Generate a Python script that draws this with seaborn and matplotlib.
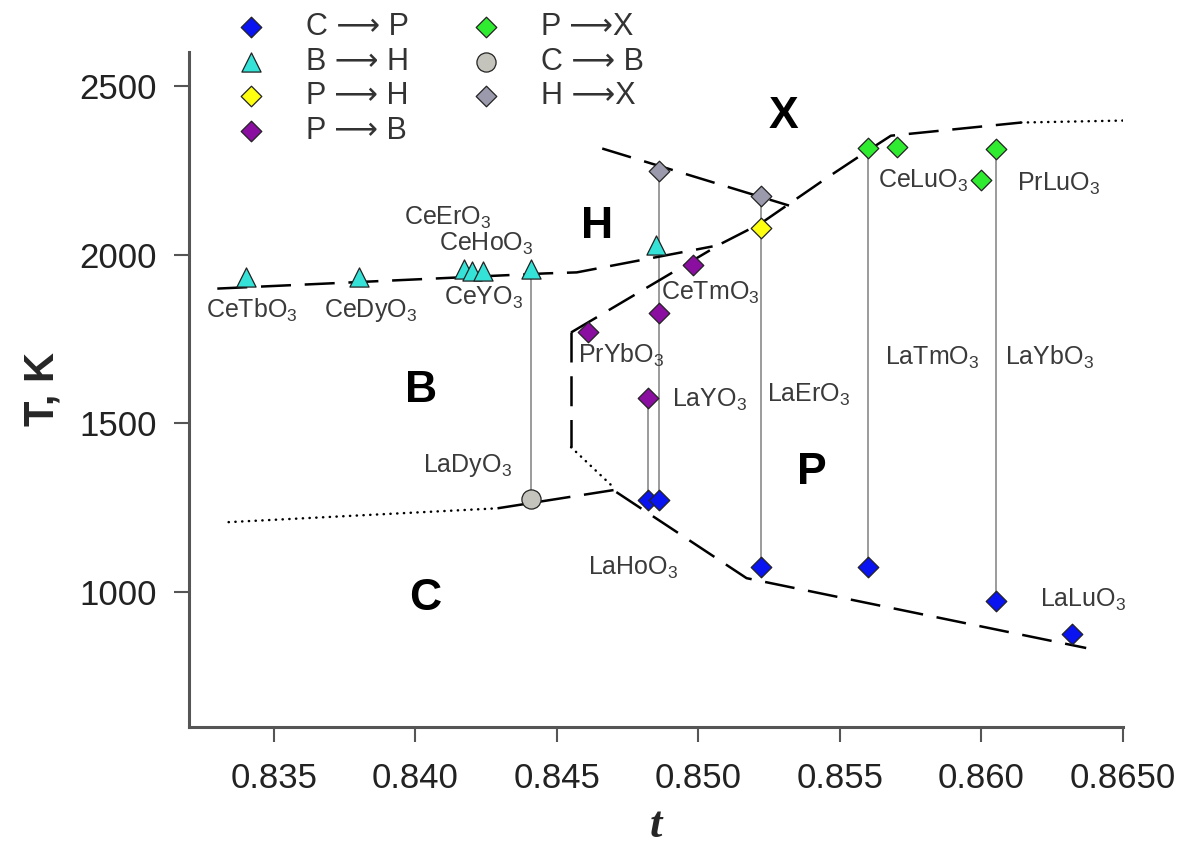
import matplotlib
matplotlib.use("Agg")
import matplotlib.pyplot as plt
import seaborn as sns
import numpy as np

# ---------------- data ----------------
# transition points (t, T)
C_P_t = [0.8482, 0.8486, 0.8522, 0.8560, 0.8605, 0.8632]
C_P_T = [1272, 1272, 1074, 1074, 973, 876]
B_H_t = [0.8340, 0.8380, 0.8417, 0.8420, 0.8424, 0.8441, 0.8485]
B_H_T = [1932, 1932, 1958, 1952, 1952, 1958, 2027]
P_H_t = [0.8522]
P_H_T = [2080]
P_B_t = [0.8498, 0.8486, 0.8461, 0.8482]
P_B_T = [1970, 1828, 1769, 1574]
P_X_t = [0.8560, 0.8570, 0.8605, 0.8600]
P_X_T = [2317, 2320, 2314, 2222]
C_B_t = [0.8441]
C_B_T = [1275]
H_X_t = [0.8486, 0.8522]
H_X_T = [2246, 2172]

# vertical tie lines for each compound
tie_t = [0.8441, 0.8482, 0.8486, 0.8522, 0.8560, 0.8605]
tie_lo = [1275, 1272, 1272, 1074, 1074, 973]
tie_hi = [1958, 1574, 2246, 2172, 2317, 2314]

# phase boundaries
bh_t = [0.8330, 0.8446, 0.8457, 0.8505]
bh_T = [1899, 1944, 1947, 2024]
hx_t = [0.8466, 0.8532]
hx_T = [2314, 2145]
px_t = [0.8455, 0.8508, 0.8522, 0.8545, 0.8561, 0.8568, 0.8614]
px_T = [1769, 2032, 2092, 2225, 2314, 2352, 2391]
px_dot_t = [0.8614, 0.8651]
px_dot_T = [2391, 2397]
bp_t = [0.8455, 0.8455]
bp_T = [1769, 1429]
bp_dot_t = [0.8455, 0.8470]
bp_dot_T = [1429, 1310]
cb_dot_t = [0.8334, 0.8429]
cb_dot_T = [1207, 1248]
cb_t = [0.8429, 0.8470]
cb_T = [1248, 1302]
cp_t = [0.8471, 0.8517, 0.8637]
cp_T = [1296, 1041, 834]

# compound labels
compounds = ["CeTbO$_3$", "CeDyO$_3$", "CeErO$_3$", "CeHoO$_3$", "CeYO$_3$",
             "PrYbO$_3$", "LaYO$_3$", "LaErO$_3$", "LaDyO$_3$", "LaHoO$_3$",
             "CeTmO$_3$", "CeLuO$_3$", "PrLuO$_3$", "LaTmO$_3$", "LaYbO$_3$",
             "LaLuO$_3$"]
comp_t = [0.83260, 0.83676, 0.83959, 0.84082, 0.84100,
          0.84573, 0.84908, 0.85243, 0.84026, 0.84611,
          0.84866, 0.85635, 0.86125, 0.85660, 0.86083,
          0.86206]
comp_T = [1834, 1834, 2109, 2032, 1870,
          1701, 1568, 1583, 1376, 1071,
          1885, 2219, 2210, 1695, 1695,
          976]

phases = ["H", "X", "B", "P", "C"]
phase_t = [0.84643, 0.85300, 0.84019, 0.85402, 0.84033]
phase_T = [2083, 2408, 1597, 1355, 982]

x_ticks = [0.835, 0.840, 0.845, 0.850, 0.855, 0.860, 0.865]
x_ticklabels = ["0.835", "0.840", "0.845", "0.850", "0.855", "0.860", "0.8650"]
y_ticks = [1000, 1500, 2000, 2500]

# ---------------- style ----------------
sns.set_theme(style="ticks")
plt.rcParams['font.family'] = ['Liberation Sans', 'DejaVu Sans']
plt.rcParams['mathtext.fontset'] = 'custom'
plt.rcParams['mathtext.rm'] = 'Liberation Sans'
plt.rcParams['mathtext.it'] = 'Liberation Sans:italic'
plt.rcParams['mathtext.bf'] = 'Liberation Sans:bold'

fig = plt.figure(figsize=(11.8, 8.58), dpi=100)
ax = fig.add_axes([189/1180, 1-727/858, (1123-189)/1180, (727-52)/858])

LW = 1.8
dash = (0, (12, 5.5))
dot = (0, (0.1, 2.6))

def bline(t, T, ls, cap='butt'):
    ax.plot(t, T, color='black', lw=LW, linestyle=ls, zorder=3,
            solid_capstyle='butt', dash_capstyle=cap)

bline(bh_t, bh_T, dash)
bline(hx_t, hx_T, dash)
bline(px_t, px_T, dash)
bline(px_dot_t, px_dot_T, dot, 'round')
bline(bp_t, bp_T, dash)
bline(bp_dot_t, bp_dot_T, dot, 'round')
bline(cb_dot_t, cb_dot_T, dot, 'round')
bline(cb_t, cb_T, dash)
bline(cp_t, cp_T, dash)

ax.vlines(tie_t, tie_lo, tie_hi, color='#8a8a8a', lw=1.2, zorder=2)

ms = 110
series = [
    (C_P_t, C_P_T, 'D', '#0a14f0', ms, "C \u27f6 P"),
    (B_H_t, B_H_T, '^', '#35e2d8', 190, "B \u27f6 H"),
    (P_H_t, P_H_T, 'D', '#ffff10', ms, "P \u27f6 H"),
    (P_B_t, P_B_T, 'D', '#8a0ea0', ms, "P \u27f6 B"),
    (P_X_t, P_X_T, 'D', '#30ec30', ms, "P \u27f6X"),
    (C_B_t, C_B_T, 'o', '#c4c4bc', 190, "C \u27f6 B"),
    (H_X_t, H_X_T, 'D', '#9a9aac', ms, "H \u27f6X"),
]
for t, T, mk, col, s, lab in series:
    sns.scatterplot(x=t, y=T, marker=mk, color=col, s=s, edgecolor='#222222',
                    linewidth=0.9, label=lab, zorder=5, ax=ax)

for lab, t, T in zip(compounds, comp_t, comp_T):
    ax.text(t, T, lab, fontsize=18, color='#3a3a3a', ha='left', va='center', zorder=6)

for lab, t, T in zip(phases, phase_t, phase_T):
    ax.text(t, T, lab, fontsize=32, fontweight='bold', color='black',
            ha='center', va='center', zorder=6)

ax.set_xlim(0.832, 0.865)
ax.set_ylim(600, 2600)
ax.set_xticks(x_ticks)
ax.set_xticklabels(x_ticklabels)
ax.set_yticks(y_ticks)
ax.tick_params(axis='both', labelsize=25, length=11, width=1.5, color='#555555',
               labelcolor='#222222', direction='out')
ax.tick_params(axis='y', pad=12)
ax.tick_params(axis='x', pad=14)
for side in ['top', 'right']:
    ax.spines[side].set_visible(False)
for side in ['left', 'bottom']:
    ax.spines[side].set_color('#555555')
    ax.spines[side].set_linewidth(2.2)

ax.set_ylabel("T, K", fontsize=30, fontweight='bold', labelpad=12)
ax.set_xlabel("t", fontsize=32, fontweight='bold', fontstyle='italic', labelpad=8,
              family=['Liberation Serif', 'DejaVu Serif'])

handles, labels = ax.get_legend_handles_labels()
leg = ax.legend(handles, labels, ncol=2, loc='upper left',
                bbox_to_anchor=(236/1180, 1-12/858), bbox_transform=fig.transFigure,
                frameon=False, fontsize=22, handlelength=1.0, handletextpad=1.3,
                columnspacing=2.0, labelspacing=0.15, borderpad=0, borderaxespad=0)
for txt in leg.get_texts():
    txt.set_color('#333333')

fig.savefig("out.png", dpi=100)
